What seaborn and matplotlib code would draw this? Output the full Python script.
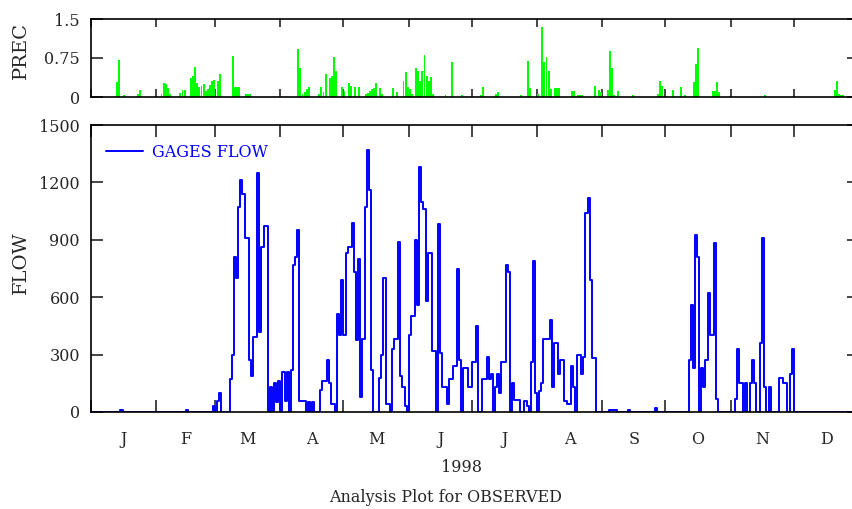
import numpy as np
import pandas as pd
import matplotlib
matplotlib.use("Agg")
import matplotlib.pyplot as plt
import seaborn as sns

month_labels = ["J", "F", "M", "A", "M", "J", "J", "A", "S", "O", "N", "D"]
month_days = [31, 28, 31, 30, 31, 30, 31, 31, 30, 31, 30, 31]

# daily observed flow, 1998
flow_jan = [0, 0, 0, 0, 0, 0, 0, 0, 0, 0, 0, 0, 0, 0, 10, 0, 0, 0, 0, 0, 0, 0, 0, 0, 0, 0, 0, 0, 0, 0, 0]
flow_feb = [0, 0, 0, 0, 0, 0, 0, 0, 0, 0, 0, 0, 0, 0, 8, 0, 0, 0, 0, 0, 0, 0, 0, 0, 0, 0, 0, 30]
flow_mar = [0, 60, 100, 0, 0, 0, 0, 170, 300, 810, 700, 1070, 1210, 1140, 910, 910, 270, 190, 390, 390,
            1250, 420, 860, 970, 970, 0, 130, 0, 150, 50, 160]
flow_apr = [0, 210, 60, 210, 0, 220, 770, 810, 950, 60, 60, 60, 0, 50, 0, 50, 0, 0, 0, 115,
            160, 160, 270, 150, 40, 40, 0, 510, 400, 690]
flow_may = [400, 830, 860, 860, 990, 730, 375, 800, 80, 380, 1070, 1370, 1160, 220, 0, 0, 0, 180, 300, 700,
            40, 40, 0, 330, 380, 380, 890, 190, 130, 30, 0]
flow_jun = [400, 500, 500, 900, 560, 1280, 1100, 1060, 580, 830, 830, 320, 320, 0, 980, 310, 130, 130, 40, 170,
            170, 240, 240, 750, 270, 0, 230, 230, 130, 130]
flow_jul = [260, 260, 450, 0, 0, 170, 170, 290, 170, 200, 0, 130, 200, 100, 260, 260, 770, 730, 0, 150,
            65, 65, 65, 0, 0, 55, 30, 0, 260, 790, 100]
flow_aug = [0, 110, 150, 380, 380, 380, 480, 130, 360, 360, 200, 270, 270, 60, 40, 40, 240, 130, 0, 300,
            300, 200, 290, 1040, 1120, 690, 280, 280, 0, 0, 0]
flow_sep = [0, 0, 0, 10, 10, 10, 10, 0, 0, 0, 0, 0, 10, 0, 0, 0, 0, 0, 0, 0, 0, 0, 0, 0, 0, 20, 0, 0, 0, 0]
flow_oct = [0, 0, 0, 0, 0, 0, 0, 0, 0, 0, 0, 270, 560, 230, 925, 810, 0, 230, 130, 270,
            620, 400, 400, 885, 70, 0, 0, 0, 0, 0, 0]
flow_nov = [0, 0, 70, 330, 150, 150, 0, 150, 0, 150, 270, 150, 0, 0, 360, 910, 130, 0, 130, 0,
            0, 0, 0, 180, 180, 150, 150, 0, 200, 330]
flow_dec = [0, 0, 0, 0, 0, 0, 0, 0, 0, 0, 0, 0, 0, 0, 0, 0, 0, 0, 0, 0, 0, 0, 0, 0, 0, 0, 0, 0, 0, 0, 0]

# daily precipitation
prec_jan = [0, 0, 0, 0, 0, 0, 0, 0, 0, 0, 0, 0, 0.29, 0.71, 0, 0.03, 0, 0, 0, 0, 0, 0, 0.05, 0.14, 0, 0, 0, 0, 0, 0, 0]
prec_feb = [0, 0, 0.05, 0.26, 0.25, 0.18, 0.05, 0, 0, 0, 0, 0.08, 0.14, 0.14, 0, 0, 0.37, 0.40, 0.58, 0.26,
            0.20, 0.22, 0.25, 0.12, 0.16, 0.24, 0.30, 0.33]
prec_mar = [0, 0.31, 0.44, 0, 0, 0, 0, 0, 0.78, 0.20, 0.20, 0.20, 0, 0, 0.05, 0.05, 0.05, 0, 0, 0,
            0, 0, 0, 0, 0, 0, 0, 0, 0, 0, 0]
prec_apr = [0, 0, 0, 0, 0, 0, 0, 0, 0.92, 0.55, 0.05, 0.10, 0.15, 0.20, 0, 0, 0, 0, 0.05, 0.20,
            0.10, 0.44, 0, 0.37, 0.40, 0.76, 0.50, 0, 0, 0.20]
prec_may = [0.12, 0, 0.26, 0.22, 0, 0.20, 0, 0.20, 0, 0, 0.06, 0.08, 0.12, 0.16, 0.18, 0.26, 0, 0.18, 0.06, 0,
            0, 0, 0, 0.18, 0, 0.10, 0, 0, 0.30, 0.48, 0.20]
prec_jun = [0.15, 0.06, 0, 0.55, 0.50, 0.30, 0.50, 0.80, 0.40, 0.30, 0.38, 0.05, 0, 0, 0, 0, 0, 0.03, 0, 0,
            0.68, 0, 0, 0, 0, 0.03, 0, 0, 0, 0]
prec_jul = [0, 0, 0, 0, 0.03, 0.20, 0, 0, 0, 0, 0, 0.05, 0.10, 0, 0, 0, 0, 0, 0, 0,
            0, 0, 0, 0.03, 0, 0, 0.70, 0.18, 0, 0, 0]
prec_aug = [0.05, 0, 1.35, 0.68, 0.77, 0.50, 0.15, 0, 0.18, 0.18, 0.18, 0, 0, 0, 0, 0, 0.12, 0.12, 0, 0.04,
            0.04, 0.04, 0, 0, 0, 0, 0, 0.22, 0, 0.14, 0.10]
prec_sep = [0, 0, 0.14, 0.89, 0.55, 0.03, 0, 0.12, 0, 0, 0, 0, 0, 0, 0.03, 0, 0, 0, 0, 0,
            0, 0, 0, 0, 0, 0, 0.05, 0.30, 0.22, 0]
prec_oct = [0, 0, 0, 0.14, 0, 0, 0, 0.20, 0, 0.03, 0, 0, 0, 0.29, 0.64, 0.95, 0, 0, 0, 0,
            0, 0, 0.12, 0.12, 0.29, 0.10, 0, 0, 0, 0, 0]
prec_nov = [0, 0, 0, 0, 0, 0, 0, 0, 0, 0, 0, 0, 0, 0, 0, 0, 0.03, 0, 0, 0,
            0, 0, 0, 0, 0, 0, 0, 0, 0, 0]
prec_dec = [0, 0, 0, 0, 0, 0, 0, 0, 0, 0, 0, 0, 0, 0, 0, 0, 0, 0, 0, 0.14,
            0.31, 0.05, 0.03, 0.03, 0, 0, 0, 0, 0, 0, 0]

flow = np.array(flow_jan + flow_feb + flow_mar + flow_apr + flow_may + flow_jun
                + flow_jul + flow_aug + flow_sep + flow_oct + flow_nov + flow_dec, dtype=float)
prec = np.array(prec_jan + prec_feb + prec_mar + prec_apr + prec_may + prec_jun
                + prec_jul + prec_aug + prec_sep + prec_oct + prec_nov + prec_dec, dtype=float)

sns.set_style("ticks")
plt.rcParams["font.family"] = ["DejaVu Serif"]

W, H = 853, 509
fig = plt.figure(figsize=(W / 100, H / 100), dpi=100)
ax_p = fig.add_axes([91 / W, 1 - 97 / H, 768 / W, 78 / H])
ax_f = fig.add_axes([91 / W, 1 - 412 / H, 768 / W, 287 / H])

days = np.arange(len(flow))
month_edges = np.concatenate([[0], np.cumsum(month_days)])
month_mid = (month_edges[:-1] + month_edges[1:]) / 2
n_days = int(month_edges[-1])

# precipitation bars, one bin per day
prec_df = pd.DataFrame({"day": days + 0.5, "prec": prec})
sns.histplot(data=prec_df, x="day", weights="prec", bins=n_days, binrange=(0, n_days),
             color="#00ff00", alpha=1, linewidth=0, edgecolor="none", shrink=0.9, ax=ax_p)
ax_p.set_xlim(0, n_days)
ax_p.set_ylim(0, 1.5)
ax_p.set_yticks([0, 0.75, 1.5])
ax_p.set_yticklabels(["0", "0.75", "1.5"])
ax_p.set_xticks(month_edges)
ax_p.set_xticklabels([])
ax_p.set_xlabel("")
ax_p.set_ylabel("PREC", fontsize=14)
ax_p.yaxis.set_label_coords(-0.079, 0.6)
ax_p.tick_params(axis="y", direction="in", length=8.5, width=1.2, right=True, labelsize=11.5, pad=8)
ax_p.tick_params(axis="x", direction="in", length=6, width=1.2, top=True)

# flow as daily steps
flow_df = pd.DataFrame({"day": np.append(days, n_days), "flow": np.append(flow, flow[-1])})
sns.lineplot(data=flow_df, x="day", y="flow", drawstyle="steps-post", color="#0000ff",
             lw=1.4, label="GAGES FLOW", errorbar=None, ax=ax_f)
ax_f.set_xlim(0, n_days)
ax_f.set_ylim(0, 1500)
ax_f.set_yticks([0, 300, 600, 900, 1200, 1500])
ax_f.set_xticks(month_edges)
ax_f.set_xticklabels([])
ax_f.set_xticks(month_mid, minor=True)
ax_f.set_xticklabels(month_labels, minor=True)
ax_f.set_xlabel("")
ax_f.set_ylabel("FLOW", fontsize=14)
ax_f.yaxis.set_label_coords(-0.079, 0.52)
ax_f.tick_params(axis="both", which="major", direction="in", length=8.5, width=1.2,
                 top=True, right=True, labelsize=11.5, pad=8)
ax_f.tick_params(axis="x", which="minor", length=0, labelsize=11.5, pad=14)

leg = ax_f.legend(loc="upper left", bbox_to_anchor=(0.011, 0.956), borderaxespad=0, frameon=False,
                  handlelength=2.3, handletextpad=0.6, fontsize=11.5, labelcolor="#0000ff")

for ax in (ax_p, ax_f):
    for s in ax.spines.values():
        s.set_linewidth(1.2)
        s.set_color("black")

fig.text(462 / W, 1 - 468 / H, "1998", ha="center", va="center", fontsize=11.5)
fig.text(446 / W, 1 - 497 / H, "Analysis Plot for OBSERVED", ha="center", va="center", fontsize=11.5)

fig.savefig("out.png", dpi=100)
